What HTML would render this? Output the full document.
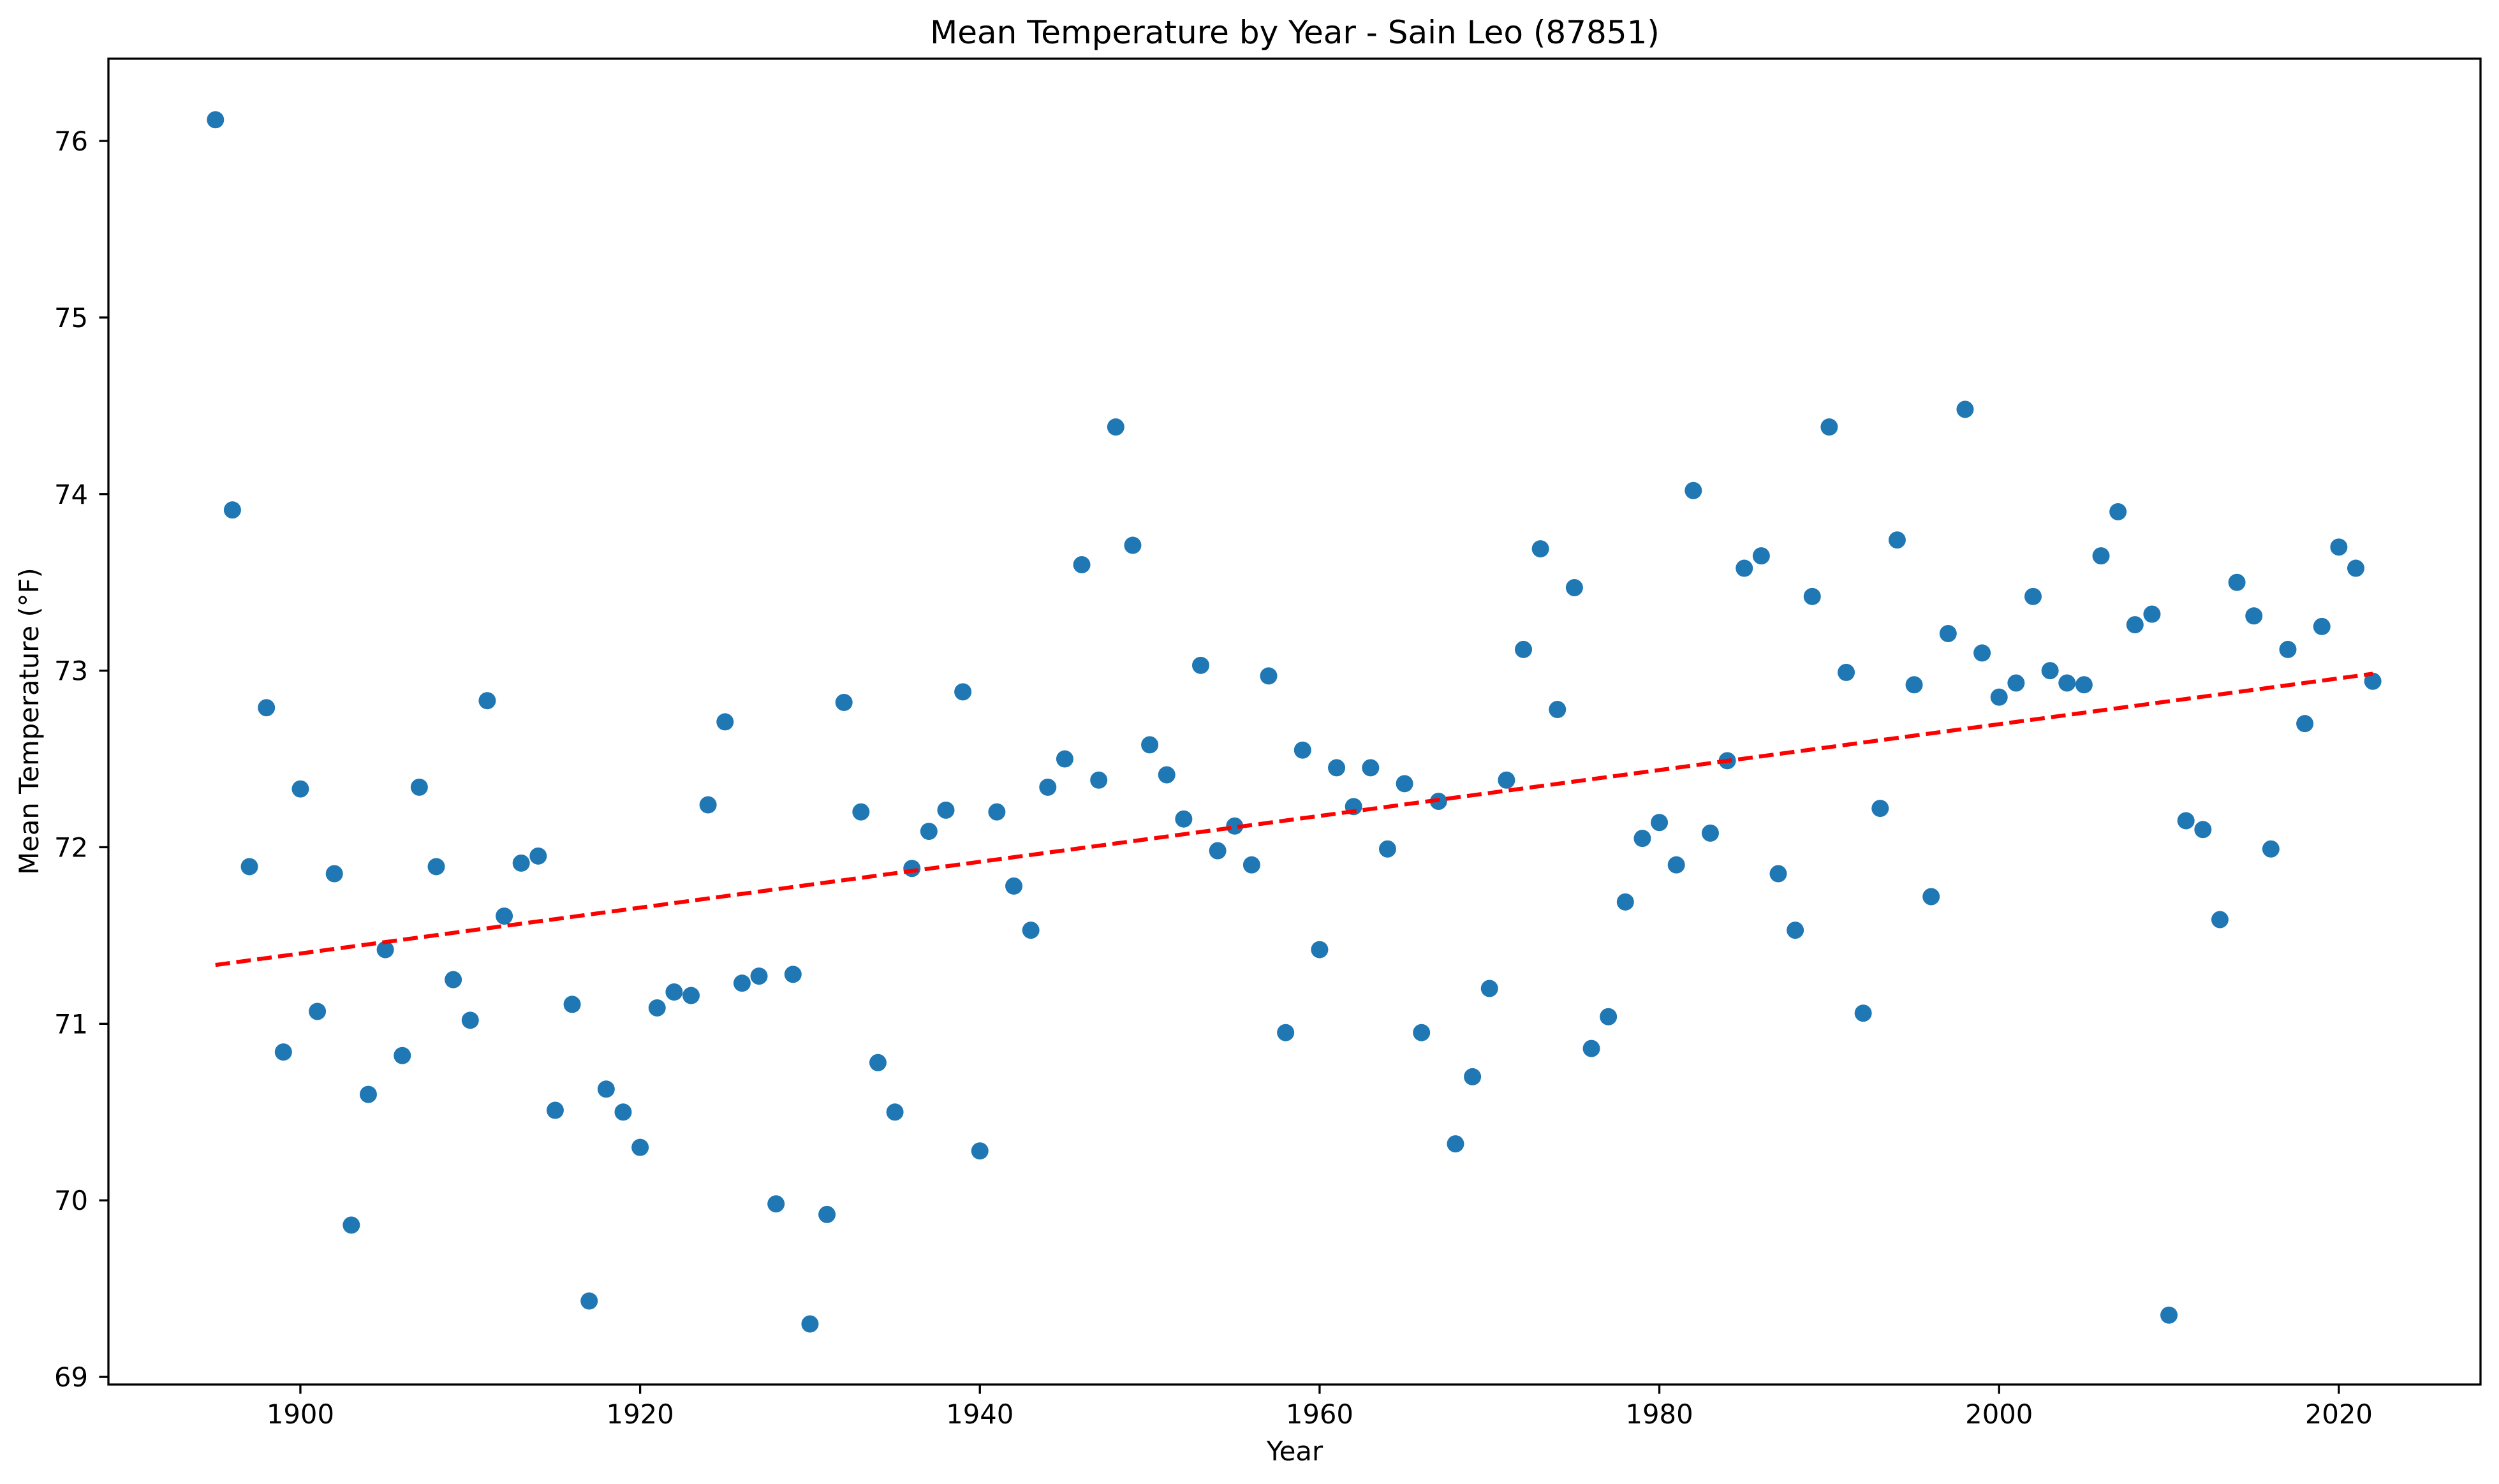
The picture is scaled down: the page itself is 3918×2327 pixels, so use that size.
<!DOCTYPE html>
<html><head><meta charset="utf-8"><style>
html,body{margin:0;padding:0;background:#fff;}
svg{display:block;font-family:"DejaVu Sans","Liberation Sans",sans-serif;}
</style></head><body>
<svg id="chart" width="3918" height="2327" viewBox="0 0 3918 2327" xmlns="http://www.w3.org/2000/svg">
<rect width="3918" height="2327" fill="#fff"/>
<text x="2030" y="68" font-size="50" text-anchor="middle">Mean Temperature by Year - Sain Leo (87851)</text>
<text x="2030" y="2290" font-size="41.7" text-anchor="middle">Year</text>
<text transform="translate(60,1131) rotate(-90)" font-size="41.7" text-anchor="middle">Mean Temperature (°F)</text>
<g id="grid"></g>
<g id="marks"></g>
<rect x="170" y="92" width="3719" height="2079" fill="none" stroke="#000" stroke-width="3.3"/>
</svg>
<script>
const startYear = 1895;
const temps = [76.12,73.91,71.89,72.79,70.84,72.33,71.07,71.85,69.86,70.60,71.42,70.82,72.34,71.89,71.25,71.02,72.83,71.61,71.91,71.95,70.51,71.11,69.43,70.63,70.50,70.30,71.09,71.18,71.16,72.24,72.71,71.23,71.27,69.98,71.28,69.30,69.92,72.82,72.20,70.78,70.50,71.88,72.09,72.21,72.88,70.28,72.20,71.78,71.53,72.34,72.50,73.60,72.38,74.38,73.71,72.58,72.41,72.16,73.03,71.98,72.12,71.90,72.97,70.95,72.55,71.42,72.45,72.23,72.45,71.99,72.36,70.95,72.26,70.32,70.70,71.20,72.38,73.12,73.69,72.78,73.47,70.86,71.04,71.69,72.05,72.14,71.90,74.02,72.08,72.49,73.58,73.65,71.85,71.53,73.42,74.38,72.99,71.06,72.22,73.74,72.92,71.72,73.21,74.48,73.10,72.85,72.93,73.42,73.00,72.93,72.92,73.65,73.90,73.26,73.32,69.35,72.15,72.10,71.59,73.50,73.31,71.99,73.12,72.70,73.25,73.70,73.58,72.94];
const years = temps.map((_, i) => startYear + i);
const xTicks = [1900,1920,1940,1960,1980,2000,2020];
const yTicks = [69,70,71,72,73,74,75,76];

const L=170,R=3889,T=92,B=2171;
const xMin=1888.70,xMax=2028.34,yMin=68.957,yMax=76.466;
const xs=v=>L+(v-xMin)/(xMax-xMin)*(R-L);
const ys=v=>B-(v-yMin)/(yMax-yMin)*(B-T);
const NS="http://www.w3.org/2000/svg";
const g=document.getElementById('grid'), m=document.getElementById('marks');
function mk(t,a,p){const e=document.createElementNS(NS,t);for(const k in a)e.setAttribute(k,a[k]);p.appendChild(e);return e;}
xTicks.forEach(t=>{
  const x=xs(t);
  const l=mk('line',{x1:x,x2:x,y1:B,y2:B+14.6,stroke:'#000','stroke-width':3.3},g);
  
  
  const tx=mk('text',{x:x,y:B+61,'font-size':41.7,'text-anchor':'middle'},g);tx.textContent=t;
  
  
});
yTicks.forEach(t=>{
  const y=ys(t);
  const l=mk('line',{x1:L-14.6,x2:L,y1:y,y2:y,stroke:'#000','stroke-width':3.3},g);
  
  
  const tx=mk('text',{x:L-32,y:y+15,'font-size':41.7,'text-anchor':'end'},g);tx.textContent=t;
  
  
});
years.forEach((yr,i)=>{
  const c=mk('circle',{cx:xs(yr),cy:ys(temps[i]),r:13.5,fill:'#1f77b4'},m);
  
  
});
const n=years.length;let sx=0,sy=0,sxx=0,sxy=0;
years.forEach((x,i)=>{sx+=x;sy+=temps[i];sxx+=x*x;sxy+=x*temps[i];});
const slope=(n*sxy-sx*sy)/(n*sxx-sx*sx), icpt=(sy-slope*sx)/n;
const x0=years[0],x1=years[n-1];
const tl=mk('line',{x1:xs(x0),y1:ys(icpt+slope*x0),x2:xs(x1),y2:ys(icpt+slope*x1),stroke:'#ff0000','stroke-width':6.25,'stroke-dasharray':'23 10'},m);


</script>
</body></html>
